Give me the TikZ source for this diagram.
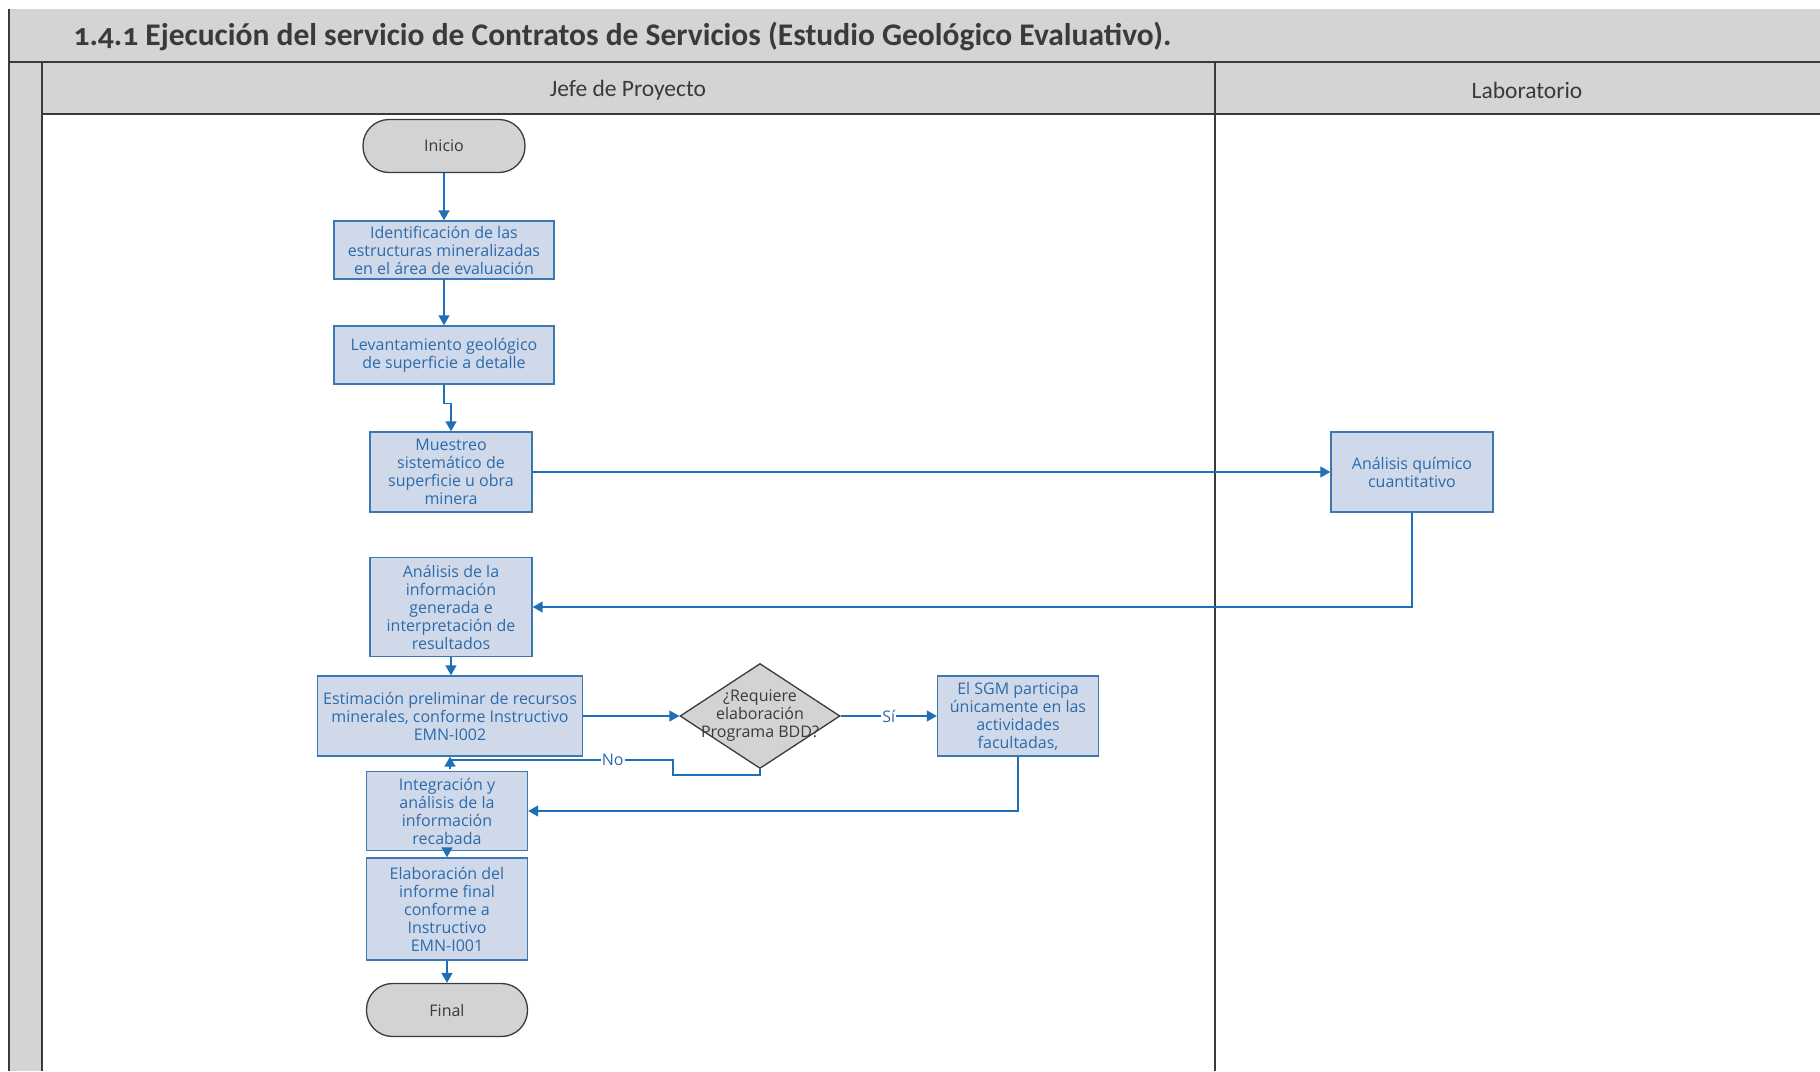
\documentclass[tikz,border=0pt]{standalone}
\usepackage{fontspec}
\setmainfont{Carlito}
\newfontfamily\boxfont{Open Sans}
\usetikzlibrary{shapes.geometric,arrows.meta}
\definecolor{boxfill}{HTML}{D0D9EA}
\definecolor{boxline}{HTML}{3B78B4}
\definecolor{boxtext}{HTML}{2C6BAA}
\definecolor{arrowc}{HTML}{1F6FB7}
\definecolor{hdr}{HTML}{D4D4D4}
\definecolor{termfill}{HTML}{D3D3D3}
\definecolor{dark}{HTML}{3A3A3A}
\begin{document}
\begin{tikzpicture}[x=1pt,y=-1pt,
 proc/.style={draw=boxline, fill=boxfill, line width=1.4pt, text=boxtext, align=center, font=\boxfont\fontsize{16}{18}\selectfont, inner sep=0pt},
 term/.style={draw=dark, fill=termfill, line width=1.3pt, rounded corners=26pt, text=dark, font=\boxfont\fontsize{16}{18}\selectfont, inner sep=0pt, minimum width=161pt, minimum height=53pt},
 dec/.style={diamond, draw=dark, fill=termfill, line width=1.3pt, inner sep=0pt, minimum width=160pt, minimum height=105pt},
 conn/.style={draw=arrowc, line width=1.5pt, -{Triangle[width=11pt,length=10pt]}},
 plainc/.style={draw=arrowc, line width=1.5pt},
 lane/.style={draw=dark, line width=2pt},
 lbl/.style={fill=white, inner sep=1pt, text=boxtext, font=\boxfont\fontsize{16}{18}\selectfont},
 hdrtext/.style={text=dark, font=\fontsize{23.5}{28}\selectfont}
]
\useasboundingbox (0,0) rectangle (1820,1071);
\fill[white] (0,0) rectangle (1820,1071);
% bands
\fill[hdr] (9,9) rectangle (1820,62);
\fill[hdr] (9,62) rectangle (42,1071);
\fill[hdr] (42,62) rectangle (1820,114);
\draw[lane] (9,9) -- (9,1071);
\draw[lane] (9,62) -- (1820,62);
\draw[lane] (42,114) -- (1820,114);
\draw[lane] (42,62) -- (42,1071);
\draw[lane] (1215,62) -- (1215,1071);
\node[anchor=west, text=dark, font=\fontsize{31.5}{36}\selectfont\bfseries\addfontfeatures{Numbers=OldStyle}] (title) at (70,36) {1.4.1 Ejecución del servicio de Contratos de Servicios (Estudio Geológico Evaluativo).};
\node[hdrtext] (h1) at (628,90) {Jefe de Proyecto};
\node[hdrtext] (h2) at (1527,90) {Laboratorio};
% nodes
\node[term, minimum width=162pt] (ini) at (444,146) {Inicio};
\node[proc, minimum width=220pt, minimum height=58pt] (id) at (444,250) {Identificación de las\\estructuras mineralizadas\\en el área de evaluación};
\node[proc, minimum width=220pt, minimum height=58pt] (lev) at (444,355) {Levantamiento geológico\\de superficie a detalle};
\node[proc, minimum width=162pt, minimum height=80pt] (mue) at (451,472) {Muestreo\\sistemático de\\superficie u obra\\minera};
\node[proc, minimum width=162pt, minimum height=80pt] (aq) at (1412,472) {Análisis químico\\cuantitativo};
\node[proc, minimum width=162pt, minimum height=99pt] (ai) at (451,607) {Análisis de la\\información\\generada e\\interpretación de\\resultados};
\node[proc, minimum width=265pt, minimum height=80pt] (est) at (450,716) {Estimación preliminar de recursos\\minerales, conforme Instructivo\\EMN-I002};
\node[dec] (dia) at (760,716) {};
\node[align=center, text=dark, font=\boxfont\fontsize{16}{18}\selectfont] (diat) at (760,716) {¿Requiere\\elaboración\\Programa BDD?};
\node[proc, minimum width=161pt, minimum height=80pt] (sgm) at (1018,716) {El SGM participa\\únicamente en las\\actividades\\facultadas,};
\node[proc, minimum width=161pt, minimum height=79pt] (int) at (447,811) {Integración y\\análisis de la\\información\\recabada};
\node[proc, minimum width=161pt, minimum height=102pt] (ela) at (447,909) {Elaboración del\\informe final\\conforme a\\Instructivo\\EMN-I001};
\node[term] (fin) at (447,1010) {Final};
% connectors
\draw[conn] (ini) -- (id);
\draw[conn] (id) -- (lev);
\draw[conn] (lev.south) -- ++(0,19) -| (mue.north);
\draw[conn] (mue) -- (aq);
\draw[conn] (aq.south) |- (ai.east);
\draw[conn] (ai.south) -- (ai.south |- est.north);
\draw[conn] (est) -- (dia);
\draw[conn] (dia) -- node[lbl]{Sí} (sgm);
\coordinate (nj) at (673,760);
\draw[plainc] (dia.south) -- ++(0,6) -| (nj) -- node[lbl, pos=0.27]{No} (est.south |- nj);
\draw[conn] (est.south) ++(0,12) -- (est.south);
\draw[conn] (sgm.south) |- (int.east);
\draw[conn] (int.south) -- (ela.north);
\draw[conn] (ela) -- (fin);
\end{tikzpicture}
\end{document}
